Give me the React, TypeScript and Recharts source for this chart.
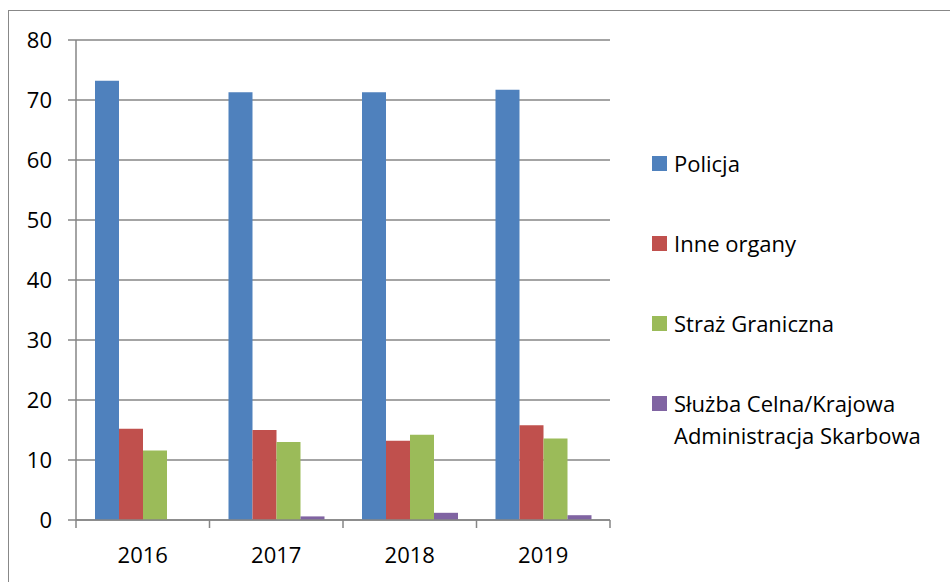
import { BarChart, Bar, XAxis, YAxis, CartesianGrid, Legend } from 'recharts';

const years = ['2016', '2017', '2018', '2019'];
const policja = [73.2, 71.3, 71.3, 71.7];
const inneOrgany = [15.2, 15.0, 13.2, 15.8];
const strazGraniczna = [11.6, 13.0, 14.2, 13.6];
const sluzbaCelna = [null, 0.6, 1.2, 0.8];
const yTicks = [0, 10, 20, 30, 40, 50, 60, 70, 80];

const series = [
  { key: 'policja', name: 'Policja', color: '#4F81BD' },
  { key: 'inne', name: 'Inne organy', color: '#C0504D' },
  { key: 'straz', name: 'Straż Graniczna', color: '#9BBB59' },
  { key: 'sluzba', name: 'Służba Celna/Krajowa\nAdministracja Skarbowa', color: '#8064A2' }
];

const data = years.map((year, i) => ({
  year,
  policja: policja[i],
  inne: inneOrgany[i],
  straz: strazGraniczna[i],
  sluzba: sluzbaCelna[i]
}));

const FONT = '"Open Sans", "Liberation Sans", sans-serif';
const AXIS_GREY = '#868686';

const YearTick = (props: any) => {
  const { x, y, payload, index, visibleTicksCount } = props;
  const half = payload?.offset ?? 66.75;
  return (
    <g>
      <line x1={x - half} x2={x - half} y1={y} y2={y + 8} stroke={AXIS_GREY} strokeWidth={1.5} />
      {index === visibleTicksCount - 1 && (
        <line x1={x + half} x2={x + half} y1={y} y2={y + 8} stroke={AXIS_GREY} strokeWidth={1.5} />
      )}
      <text x={x} y={y + 43} textAnchor="middle" fill="#000" fontSize={22} fontFamily={FONT}>
        {payload.value}
      </text>
    </g>
  );
};

const SideLegend = () => (
  <div style={{ fontFamily: FONT, fontSize: 22, color: '#000' }}>
    {series.map(s => (
      <div key={s.key} style={{ display: 'flex', alignItems: 'flex-start', marginBottom: 48 }}>
        <div style={{ width: 15, height: 15, background: s.color, marginTop: 9, marginRight: 7, flexShrink: 0 }} />
        <div style={{ lineHeight: '32px', whiteSpace: 'pre-line' }}>{s.name}</div>
      </div>
    ))}
  </div>
);

export default function App() {
  return (
    <div style={{ position: 'absolute', left: 0, top: 0, width: 950, height: 582, background: '#fff', overflow: 'hidden' }}>
      <div
        style={{
          position: 'absolute',
          left: 8,
          top: 10,
          right: 0,
          bottom: 0,
          borderLeft: '1px solid #888',
          borderTop: '1px solid #888'
        }}
      />
      <BarChart
        width={950}
        height={582}
        data={data}
        margin={{ top: 40, right: 340, left: 0, bottom: 0 }}
        barCategoryGap={19}
        barGap={0}
      >
        <CartesianGrid vertical={false} stroke={AXIS_GREY} strokeWidth={1.5} />
        <XAxis
          dataKey="year"
          height={62}
          tickSize={0}
          tickMargin={0}
          tickLine={false}
          axisLine={{ stroke: AXIS_GREY, strokeWidth: 1.5 }}
          tick={<YearTick />}
          interval={0}
        />
        <YAxis
          width={76}
          domain={[0, 80]}
          ticks={yTicks}
          tickSize={8}
          tickMargin={16}
          axisLine={{ stroke: AXIS_GREY, strokeWidth: 1.5 }}
          tickLine={{ stroke: AXIS_GREY, strokeWidth: 1.5 }}
          tick={{ fill: '#000', fontSize: 22, fontFamily: FONT }}
        />
        <Legend
          layout="vertical"
          align="center"
          verticalAlign="middle"
          content={<SideLegend />}
          wrapperStyle={{ left: 652, top: 147, width: 295 }}
        />
        {series.map(s => (
          <Bar key={s.key} dataKey={s.key} name={s.name} fill={s.color} isAnimationActive={false} />
        ))}
      </BarChart>
    </div>
  );
}
